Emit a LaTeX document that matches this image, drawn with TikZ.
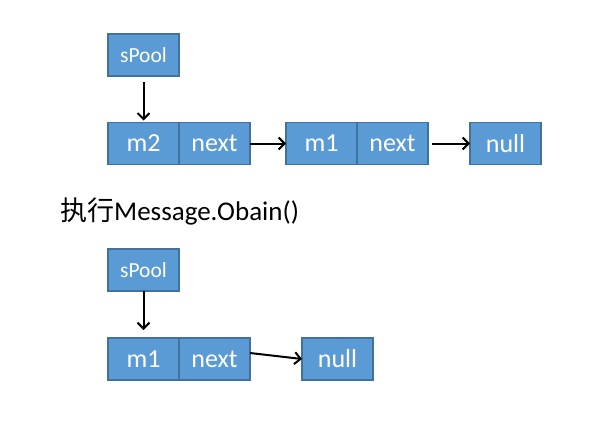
\documentclass[tikz,border=0pt]{standalone}
\usepackage{fontspec}
\setmainfont{Carlito}
\newfontfamily\cjk{Noto Sans CJK SC}
\usetikzlibrary{positioning,arrows.meta}

\definecolor{cellfill}{HTML}{5B9BD5}
\definecolor{celledge}{HTML}{41719C}

\begin{document}
\begin{tikzpicture}[x=1pt, y=-1pt, >={Straight Barb[length=6pt,width=12pt]},
    cell/.style={rectangle, draw=celledge, fill=cellfill, line width=1.5pt, text=white, minimum width=71pt, minimum height=42pt, inner sep=0pt, outer sep=0pt, font=\fontsize{26}{29}\selectfont},
    ptr/.style={cell, font=\fontsize{21.5}{24}\selectfont},
    link/.style={->, line width=2pt}]

    \useasboundingbox (0,0) rectangle (610,423);

    % before
    \node[ptr] (pool1) at (143.5,55) {sPool};
    \node[cell] (m2) at (143.5,143.5) {m2};
    \node[cell, right=0pt of m2] (n2) {next};
    \node[cell, right=36pt of n2] (m1) {m1};
    \node[cell, right=0pt of m1] (n1) {next};
    \node[cell, right=42pt of n1] (null1) {null};

    \draw[link, shorten <=6pt, shorten >=2pt] (pool1) -- (m2);
    \draw[link] (n2) -- (m1);
    \draw[link, shorten <=4pt] (n1) -- (null1);

    % title
    \node[anchor=west, inner sep=0pt, font=\fontsize{27}{30}\selectfont] (title) at (60,211) {{\cjk 执行}Message.Obain()};

    % after
    \node[ptr] (pool2) at (143.5,270) {sPool};
    \node[cell] (m1b) at (143.5,359) {m1};
    \node[cell, right=0pt of m1b] (n1b) {next};
    \node[cell, right=52pt of n1b] (null2) {null};

    \draw[link, shorten >=8pt] (pool2) -- (m1b);
    \draw[link] ([yshift=6pt]n1b.east) -- (null2.west);

\end{tikzpicture}
\end{document}
